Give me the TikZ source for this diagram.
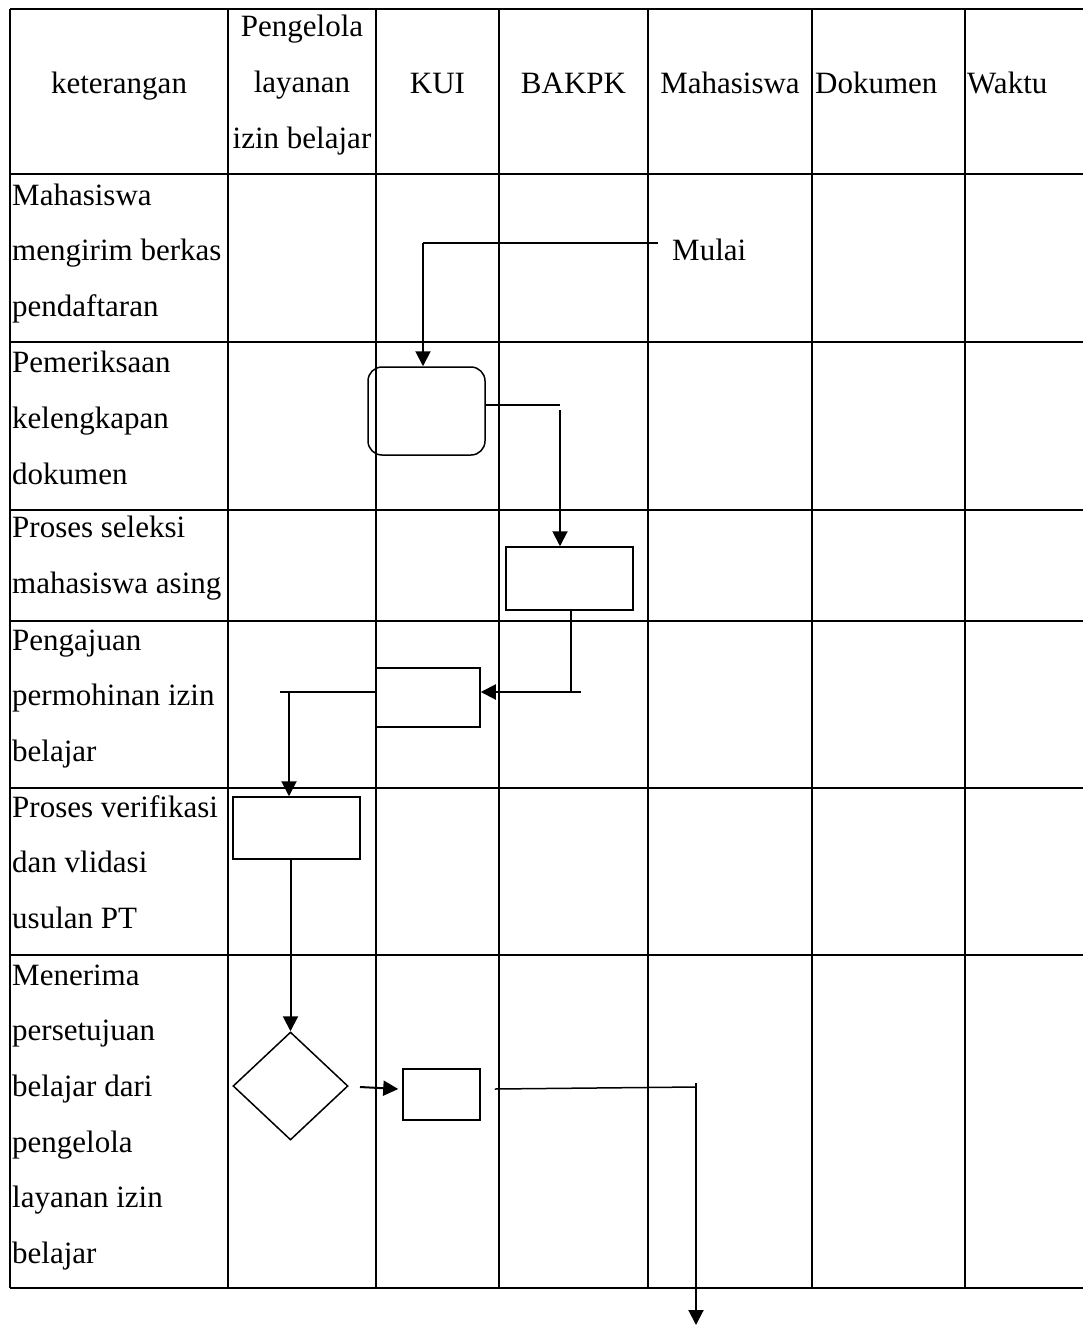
\documentclass[tikz,border=0pt]{standalone}
\usepackage{fontspec}
\setmainfont{Liberation Serif}
\usetikzlibrary{arrows.meta,shapes.geometric}
\begin{document}
\begin{tikzpicture}[x=1pt,y=-1pt,
  gridline/.style={line width=2pt},
  txt/.style={inner sep=0pt,font=\fontsize{31}{55.7}\selectfont},
  lefttxt/.style={txt,align=left,anchor=base west},
  ctrtxt/.style={txt,align=center,anchor=base},
  box/.style={draw,line width=1.5pt,inner sep=0pt},
  link/.style={line width=1.5pt},
  arrowlink/.style={line width=2pt,-{Triangle[length=15pt,width=15pt]}}]
\useasboundingbox (0,0) rectangle (1083,1325);
% table grid
\foreach \yy in {9,174,342,510,621,788,955,1288}
  \draw[gridline] (10,\yy) -- (1083,\yy);
\foreach \xx in {10,228,376,499,648,812,965}
  \draw[gridline] (\xx,9) -- (\xx,1288);
% header (base anchor = baseline of the last line)
\node[ctrtxt] (h1) at (119,93) {keterangan};
\node[ctrtxt] (h2) at (302,148) {Pengelola\\layanan\\izin belajar};
\node[ctrtxt] (h3) at (437.5,93) {KUI};
\node[ctrtxt] (h4) at (573.5,93) {BAKPK};
\node[ctrtxt] (h5) at (730,93) {Mahasiswa};
\node[lefttxt] (h6) at (815,93) {Dokumen};
\node[lefttxt] (h7) at (967,93) {Waktu};
% row descriptions
\node[lefttxt] (r1) at (12,316.5) {Mahasiswa\\mengirim berkas\\pendaftaran};
\node[lefttxt] (r2) at (12,484) {Pemeriksaan\\kelengkapan\\dokumen};
\node[lefttxt] (r3) at (12,593.5) {Proses seleksi\\mahasiswa asing};
\node[lefttxt] (r4) at (12,761.5) {Pengajuan\\permohinan izin\\belajar};
\node[lefttxt] (r5) at (12,928.5) {Proses verifikasi\\dan vlidasi\\usulan PT};
\node[lefttxt] (r6) at (12,1263.5) {Menerima\\persetujuan\\belajar dari\\pengelola\\layanan izin\\belajar};
% flow shapes
\node[lefttxt] (mulai) at (672,260) {Mulai};
\node[box,rounded corners=14pt,minimum width=117pt,minimum height=88pt] (R1) at (426.5,411) {};
\node[box,minimum width=127pt,minimum height=63pt] (B1) at (569.5,578.5) {};
\node[box,minimum width=104pt,minimum height=59pt] (K1) at (428,697.5) {};
\node[box,minimum width=127pt,minimum height=62pt] (V1) at (296.5,828) {};
\node[box,diamond,aspect=1.06,minimum width=115pt,minimum height=108pt] (D) at (290.5,1086) {};
\node[box,minimum width=77pt,minimum height=51pt] (S) at (441.5,1094.5) {};
% connector points
\coordinate (m0) at (658,243);
\coordinate (a1) at (560,405);
\coordinate (a2) at (560,410);
\coordinate (b1) at (571,692);
\coordinate (b2) at (581,692);
\coordinate (k1) at (280,692);
\coordinate (k2) at (289,692);
\coordinate (d1) at (360,1087);
\coordinate (e1) at (696,1087);
\coordinate (e2) at (696,1325);
% connectors
\draw[link] (m0) -- ([xshift=-3.5pt]R1.north |- m0);
\draw[arrowlink] ([xshift=-3.5pt]R1.north |- m0) -- ([xshift=-3.5pt]R1.north);
\draw[link] (R1.east |- a1) -- (a1);
\draw[arrowlink] (a2) -- (a2 |- B1.north);
\draw[link] (b1 |- B1.south) -- (b1);
\draw[arrowlink] (b2) -- (K1.east |- b2);
\draw[link] (K1.west |- k1) -- (k1);
\draw[arrowlink] (k2) -- (k2 |- V1.north);
\draw[arrowlink] (D.north |- V1.south) -- (D.north);
\draw[arrowlink] (d1) -- ([xshift=-4pt,yshift=5.5pt]S.west);
\draw[link] ([xshift=14pt,yshift=5.5pt]S.east) -- (e1);
\draw[arrowlink] ([yshift=4pt]e1) -- (e2);
\end{tikzpicture}
\end{document}
